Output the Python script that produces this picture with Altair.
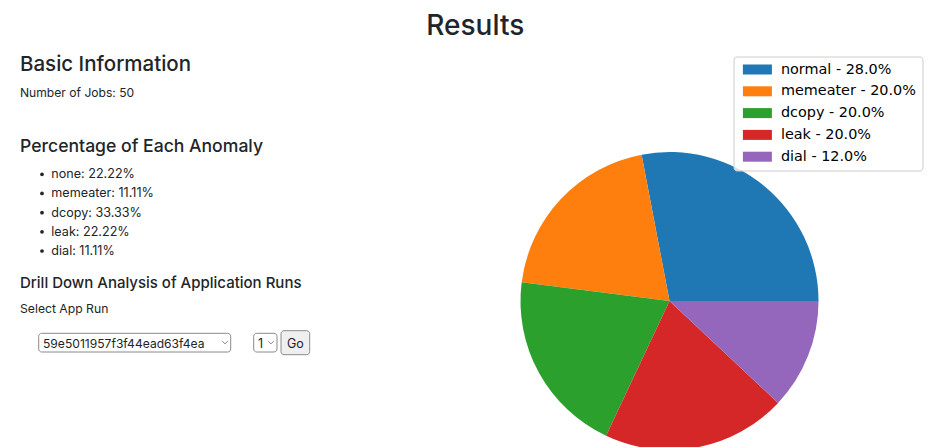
import math
import altair as alt
import pandas as pd

# ---------------- data ----------------
page_title = "Results"
section_basic = "Basic Information"
jobs_text = "Number of Jobs: 50"
section_pct = "Percentage of Each Anomaly"
anomaly_names = ["none", "memeater", "dcopy", "leak", "dial"]
anomaly_pcts = [22.22, 11.11, 33.33, 22.22, 11.11]
section_drill = "Drill Down Analysis of Application Runs"
select_label = "Select App Run"
app_run_id = "59e5011957f3f44ead63f4ea"
run_number = "1"
go_label = "Go"

pie_labels = ["normal", "memeater", "dcopy", "leak", "dial"]
pie_counts = [14, 10, 10, 10, 6]
pie_colors = ["#1f77b4", "#ff7f0e", "#2ca02c", "#d62728", "#9467bd"]

# ---------------- tables ----------------
total = sum(pie_counts)
legend_labels = [f"{n} - {100 * c / total:.1f}%" for n, c in zip(pie_labels, pie_counts)]
pie_df = pd.DataFrame({"label": legend_labels, "count": pie_counts, "idx": list(range(len(pie_counts)))})
anom_df = pd.DataFrame({
    "row": list(range(len(anomaly_names))),
    "text": [f"{n}: {p:.2f}%" for n, p in zip(anomaly_names, anomaly_pcts)],
})
one = pd.DataFrame({"a": [0]})

TEXT = "#212529"
FONT = "Inter"


def txt(s, x, y, size, weight=400, align="left", color=TEXT, font=FONT):
    return alt.Chart(pd.DataFrame({"t": [s]})).mark_text(
        align=align, baseline="alphabetic", font=font, fontSize=size,
        fontWeight=weight, color=color
    ).encode(x=alt.value(x), y=alt.value(y), text="t:N")


def box(x1, x2, y1, y2, fill, stroke, opacity=1.0, radius=3):
    return alt.Chart(one).mark_rect(
        fill=fill, fillOpacity=opacity, stroke=stroke, strokeWidth=1, cornerRadius=radius
    ).encode(x=alt.value(x1), x2=alt.value(x2), y=alt.value(y1), y2=alt.value(y2))


def chevron(x, y):
    return alt.Chart(one).mark_point(
        shape="M-1,-0.5L0,0.5L1,-0.5", filled=False, stroke="#555555", strokeWidth=1, size=30
    ).encode(x=alt.value(x), y=alt.value(y))


# ---------------- pie ----------------
pie = alt.Chart(pie_df).mark_arc(radius=149).encode(
    theta=alt.Theta("count:Q", stack=True,
                    scale=alt.Scale(range=[math.pi / 2, math.pi / 2 - 2 * math.pi])),
    color=alt.Color("label:N", sort=legend_labels,
                    scale=alt.Scale(domain=legend_labels, range=pie_colors),
                    legend=alt.Legend(
                        orient="none", legendX=732.7, legendY=54.3, title=None,
                        symbolType="M-2.9,-1H2.9V1H-2.9Z", symbolSize=100,
                        symbolOffset=9.5, labelOffset=16.3, symbolStrokeWidth=0,
                        symbolOpacity=1, labelFont="DejaVu Sans", labelFontSize=14.4,
                        labelColor="#000000", rowPadding=6.8, labelLimit=400,
                        padding=0, zindex=2)),
    order=alt.Order("idx:Q"),
    x=alt.value(661.5),
    y=alt.value(293),
)

legend_box = box(726, 915, 49, 163, "white", "#cccccc", opacity=0.8, radius=3)

# ---------------- page text ----------------
bullet_y = alt.Y("row:Q", scale=alt.Scale(domain=[0, 4], range=[170.3, 247]), axis=None)
bullets_txt = alt.Chart(anom_df).mark_text(
    align="left", baseline="alphabetic", font=FONT, fontSize=12.6, color=TEXT
).encode(x=alt.value(43.3), y=bullet_y, text="text:N")
bullets_dot = alt.Chart(anom_df).mark_circle(size=14, color=TEXT, opacity=1, yOffset=-4).encode(
    x=alt.value(34), y=bullet_y)

layers = [
    pie,
    legend_box,
    txt(page_title, 467.3, 27, 28, 500, align="center"),
    txt(section_basic, 12, 63, 20.5, 500),
    txt(jobs_text, 12, 89.3, 12.1),
    txt(section_pct, 12, 144, 17.6, 500),
    bullets_txt,
    bullets_dot,
    txt(section_drill, 12, 280.3, 15, 500),
    txt(select_label, 12, 304.7, 12.2),
    box(30.7, 222.7, 325.3, 344, "white", "#8a8a8a", radius=3),
    txt(app_run_id, 35, 339.5, 12.1),
    chevron(217, 334.5),
    box(245.7, 269, 325.3, 344, "white", "#8a8a8a", radius=3),
    txt(run_number, 250, 339.5, 12.5),
    chevron(263, 334.5),
    box(273, 301.7, 322.7, 346.7, "#efefef", "#8a8a8a", radius=3),
    txt(go_label, 287.3, 339.5, 12.5, align="center"),
]

chart = alt.layer(*layers).properties(
    width=927, height=439, padding=0, autosize="none", background="white"
).configure_view(stroke=None)

chart.save("out.html", embed_options={"renderer": "svg", "actions": False})
